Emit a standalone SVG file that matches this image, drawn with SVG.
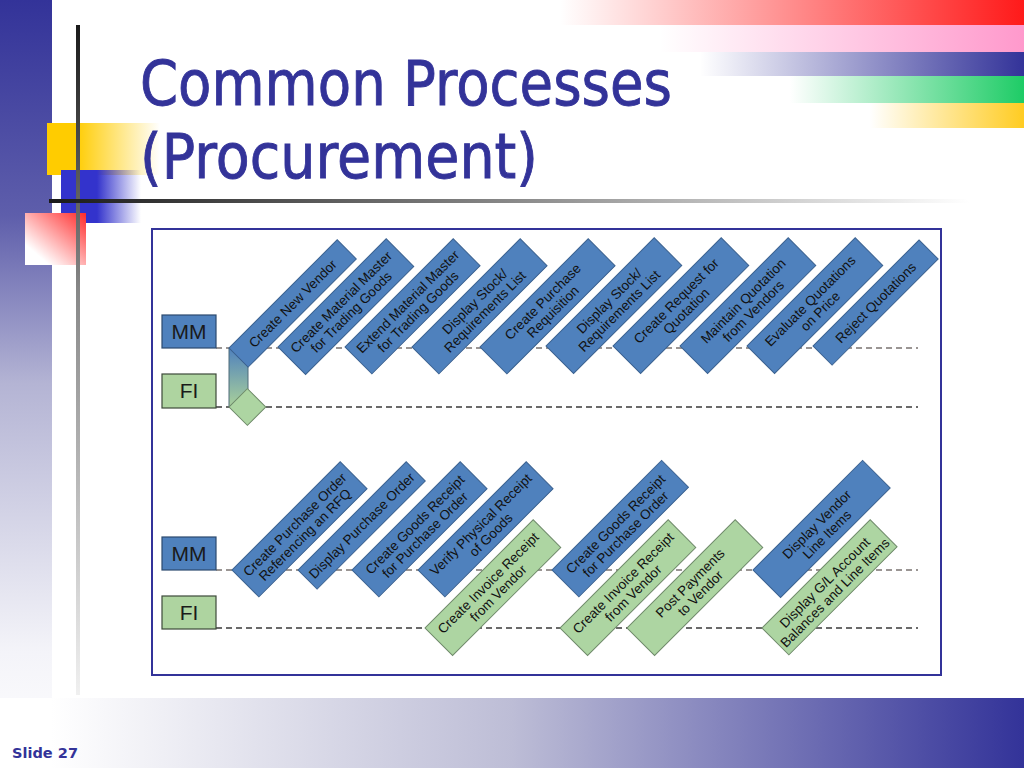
<svg xmlns="http://www.w3.org/2000/svg" width="1024" height="768" viewBox="0 0 1024 768">
<defs>
<linearGradient id="gLeft" x1="0" y1="0" x2="0" y2="1">
<stop offset="0" stop-color="#333399"/><stop offset="0.28" stop-color="#5e5eab"/><stop offset="0.5" stop-color="#b4b4d4"/><stop offset="0.85" stop-color="#f4f4f9"/><stop offset="1" stop-color="#ffffff"/>
</linearGradient>
<linearGradient id="gFoot" x1="0" y1="0" x2="1" y2="0">
<stop offset="0.05" stop-color="#ffffff"/><stop offset="0.5" stop-color="#bdbdd6"/><stop offset="1" stop-color="#333399"/>
</linearGradient>
<linearGradient id="gVLine" x1="0" y1="0" x2="0" y2="1">
<stop offset="0" stop-color="#1a1a1a"/><stop offset="0.4" stop-color="#888888"/><stop offset="1" stop-color="#f0f0f0"/>
</linearGradient>
<linearGradient id="gHLine" x1="0" y1="0" x2="1" y2="0">
<stop offset="0" stop-color="#1a1a1a"/><stop offset="0.5" stop-color="#888888"/><stop offset="1" stop-color="#ffffff"/>
</linearGradient>
<linearGradient id="gYel" x1="0" y1="0" x2="1" y2="0">
<stop offset="0.25" stop-color="#ffcc00"/><stop offset="1" stop-color="#ffcc00" stop-opacity="0"/>
</linearGradient>
<linearGradient id="gBlu" x1="0" y1="0" x2="1" y2="0">
<stop offset="0.45" stop-color="#3333cc"/><stop offset="1" stop-color="#3333cc" stop-opacity="0"/>
</linearGradient>
<linearGradient id="gRed" x1="0" y1="1" x2="1" y2="0">
<stop offset="0.2" stop-color="#ffffff"/><stop offset="1" stop-color="#ff2a2a"/>
</linearGradient>
<linearGradient id="s1" x1="0" y1="0" x2="1" y2="0"><stop offset="0" stop-color="#ff1a1a" stop-opacity="0"/><stop offset="1" stop-color="#ff1a1a"/></linearGradient>
<linearGradient id="s2" x1="0" y1="0" x2="1" y2="0"><stop offset="0" stop-color="#ff99cc" stop-opacity="0"/><stop offset="1" stop-color="#ff99cc"/></linearGradient>
<linearGradient id="s3" x1="0" y1="0" x2="1" y2="0"><stop offset="0" stop-color="#333399" stop-opacity="0"/><stop offset="1" stop-color="#333399"/></linearGradient>
<linearGradient id="s4" x1="0" y1="0" x2="1" y2="0"><stop offset="0" stop-color="#1ecc66" stop-opacity="0"/><stop offset="1" stop-color="#1ecc66"/></linearGradient>
<linearGradient id="s5" x1="0" y1="0" x2="1" y2="0"><stop offset="0" stop-color="#ffcc22" stop-opacity="0"/><stop offset="1" stop-color="#ffcc22"/></linearGradient>
<linearGradient id="gConn" x1="0" y1="0" x2="0" y2="1">
<stop offset="0" stop-color="#4f81bd"/><stop offset="1" stop-color="#aad19a"/>
</linearGradient>
</defs>
<style>
.blue{fill:#4f81bd;stroke:#3a6190;stroke-width:1}
.green{fill:#add5a2;stroke:#6f8a6a;stroke-width:1}
.lblMM{fill:#4f81bd;stroke:#2c4a6e;stroke-width:1.2}
.lblFI{fill:#aed4a0;stroke:#3d4a3a;stroke-width:1.2}
.lbl{font-family:"Liberation Sans",Arial,sans-serif;font-size:21px;fill:#1a1a1a;text-anchor:middle}
.t{font-family:"Liberation Sans",Arial,sans-serif;font-size:13.5px;fill:#111111;text-anchor:middle}
.dMM{stroke:#7a7370;stroke-width:1.3;stroke-dasharray:6 4;fill:none}
.dFI{stroke:#3a3a3a;stroke-width:1.3;stroke-dasharray:6 4;fill:none}
.title{font-family:"DejaVu Sans",Tahoma,Verdana,sans-serif;font-size:62px;fill:#333399;stroke:#333399;stroke-width:0.9}
</style>
<rect width="1024" height="768" fill="#ffffff"/>
<!-- decoration -->
<rect x="0" y="0" width="52" height="768" fill="url(#gLeft)"/>
<rect x="560" y="0" width="464" height="25" fill="url(#s1)"/>
<rect x="660" y="25" width="364" height="27" fill="url(#s2)"/>
<rect x="700" y="52" width="324" height="24" fill="url(#s3)"/>
<rect x="790" y="76" width="234" height="27" fill="url(#s4)"/>
<rect x="870" y="103" width="154" height="25" fill="url(#s5)"/>
<rect x="47" y="123" width="113" height="52" fill="url(#gYel)"/>
<rect x="61" y="170" width="80" height="53" fill="url(#gBlu)"/>
<rect x="25" y="213" width="61" height="52" fill="url(#gRed)"/>
<rect x="76" y="25" width="4" height="670" fill="url(#gVLine)"/>
<rect x="49" y="199" width="920" height="4" fill="url(#gHLine)"/>
<rect x="0" y="698" width="1024" height="70" fill="url(#gFoot)"/>
<text x="12" y="758" font-family="DejaVu Sans,Tahoma,sans-serif" font-weight="bold" font-size="14" fill="#333399" textLength="66" lengthAdjust="spacingAndGlyphs">Slide 27</text>
<text class="title" x="140" y="105" textLength="532" lengthAdjust="spacingAndGlyphs">Common Processes</text>
<text class="title" x="140" y="178" textLength="398" lengthAdjust="spacingAndGlyphs">(Procurement)</text>
<!-- frame -->
<rect x="152" y="229" width="789" height="446" fill="#ffffff" stroke="#333399" stroke-width="2"/>
<g id="connectors">
<line class="dMM" x1="216" y1="348" x2="918" y2="348"/>
<line class="dFI" x1="216" y1="407" x2="918" y2="407"/>
<line class="dMM" x1="216" y1="570" x2="918" y2="570"/>
<line class="dFI" x1="216" y1="628" x2="918" y2="628"/>
<polygon points="229,348 248,367 248,390 229,407" fill="url(#gConn)" stroke="#4f6a78" stroke-width="1"/>
</g>
<!-- lane labels -->
<g id="lane-mm-1"><rect class="lblMM" x="162" y="315" width="54" height="33"/><text class="lbl" x="189" y="339">MM</text></g>
<g id="lane-fi-1"><rect class="lblFI" x="162" y="374" width="54" height="34"/><text class="lbl" x="189" y="398">FI</text></g>
<g id="lane-mm-2"><rect class="lblMM" x="162" y="537" width="54" height="33"/><text class="lbl" x="189" y="561">MM</text></g>
<g id="lane-fi-2"><rect class="lblFI" x="162" y="596" width="54" height="33"/><text class="lbl" x="189" y="620">FI</text></g>
<!-- top row -->
<g id="fi-diamond"><rect class="green" x="0" y="0" width="26" height="26" transform="translate(229,407) rotate(-45)"/></g>
<g id="t1" transform="translate(229,348) rotate(-45)"><rect class="blue" width="153" height="27"/><text class="t" x="76.5" y="18.4">Create New Vendor</text></g>
<g id="t2" transform="translate(278,347) rotate(-45)"><rect class="blue" width="153" height="39"/><text class="t" x="76.5" y="17.5">Create Material Master</text><text class="t" x="76.5" y="31.8">for Trading Goods</text></g>
<g id="t3" transform="translate(345,347) rotate(-45)"><rect class="blue" width="153" height="38"/><text class="t" x="76.5" y="17">Extend Material Master</text><text class="t" x="76.5" y="31.3">for Trading Goods</text></g>
<g id="t4" transform="translate(412,347) rotate(-45)"><rect class="blue" width="153" height="38"/><text class="t" x="76.5" y="17">Display Stock/</text><text class="t" x="76.5" y="31.3">Requirements List</text></g>
<g id="t5" transform="translate(480,347) rotate(-45)"><rect class="blue" width="153" height="38"/><text class="t" x="76.5" y="17">Create Purchase</text><text class="t" x="76.5" y="31.3">Requisition</text></g>
<g id="t6" transform="translate(546,346) rotate(-45)"><rect class="blue" width="153" height="39"/><text class="t" x="76.5" y="17.5">Display Stock/</text><text class="t" x="76.5" y="31.8">Requirements List</text></g>
<g id="t7" transform="translate(613,346) rotate(-45)"><rect class="blue" width="153" height="39"/><text class="t" x="76.5" y="17.5">Create Request for</text><text class="t" x="76.5" y="31.8">Quotation</text></g>
<g id="t8" transform="translate(680,346) rotate(-45)"><rect class="blue" width="153" height="39"/><text class="t" x="76.5" y="17.5">Maintain Quotation</text><text class="t" x="76.5" y="31.8">from Vendors</text></g>
<g id="t9" transform="translate(747,346) rotate(-45)"><rect class="blue" width="153" height="39"/><text class="t" x="76.5" y="17.5">Evaluate Quotations</text><text class="t" x="76.5" y="31.8">on Price</text></g>
<g id="t10" transform="translate(813,346) rotate(-45)"><rect class="blue" width="150" height="27"/><text class="t" x="75" y="18.4">Reject Quotations</text></g>
<!-- bottom row -->
<g id="b1" transform="translate(232,570) rotate(-45)"><rect class="blue" width="153" height="38"/><text class="t" x="76.5" y="17">Create Purchase Order</text><text class="t" x="76.5" y="31.3">Referencing an RFQ</text></g>
<g id="b2" transform="translate(298,570) rotate(-45)"><rect class="blue" width="153" height="27"/><text class="t" x="76.5" y="18.4">Display Purchase Order</text></g>
<g id="b3" transform="translate(352,570) rotate(-45)"><rect class="blue" width="153" height="38"/><text class="t" x="76.5" y="17">Create Goods Receipt</text><text class="t" x="76.5" y="31.3">for Purchase Order</text></g>
<g id="b4" transform="translate(418,570) rotate(-45)"><rect class="blue" width="153" height="38"/><text class="t" x="76.5" y="17">Verify Physical Receipt</text><text class="t" x="76.5" y="31.3">of Goods</text></g>
<g id="g1" transform="translate(425,628) rotate(-45)"><rect class="green" width="153" height="39"/><text class="t" x="76.5" y="17.5">Create Invoice Receipt</text><text class="t" x="76.5" y="31.8">from Vendor</text></g>
<g id="b5" transform="translate(552,570) rotate(-45)"><rect class="blue" width="155" height="38"/><text class="t" x="77.5" y="17">Create Goods Receipt</text><text class="t" x="77.5" y="31.3">for Purchase Order</text></g>
<g id="g2" transform="translate(560,628) rotate(-45)"><rect class="green" width="153" height="39"/><text class="t" x="76.5" y="17.5">Create Invoice Receipt</text><text class="t" x="76.5" y="31.8">from Vendor</text></g>
<g id="g3" transform="translate(627,628) rotate(-45)"><rect class="green" width="153" height="39"/><text class="t" x="76.5" y="17.5">Post Payments</text><text class="t" x="76.5" y="31.8">to Vendor</text></g>
<g id="b6" transform="translate(753,570) rotate(-45)"><rect class="blue" width="155" height="39"/><text class="t" x="77.5" y="17.5">Display Vendor</text><text class="t" x="77.5" y="31.8">Line Items</text></g>
<g id="g4" transform="translate(762,628) rotate(-45)"><rect class="green" width="153" height="38"/><text class="t" x="76.5" y="17">Display G/L Account</text><text class="t" x="76.5" y="31.3">Balances and Line Items</text></g>
</svg>
